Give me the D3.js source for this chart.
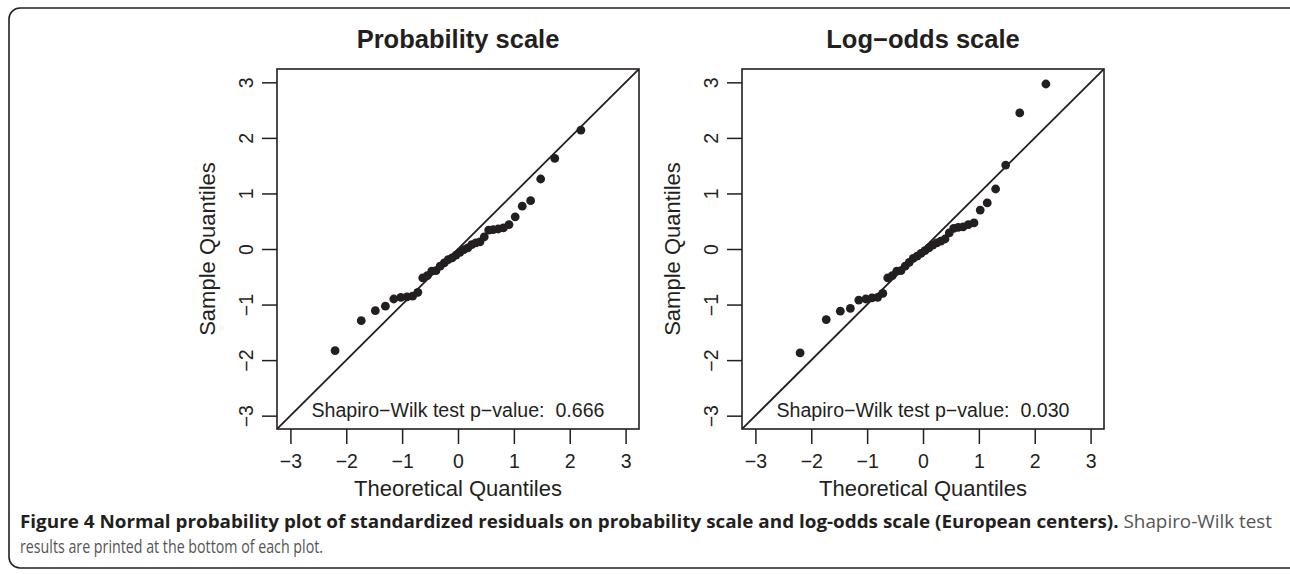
<!DOCTYPE html>
<html>
<head>
<meta charset="utf-8">
<script src="https://cdn.jsdelivr.net/npm/d3@7"></script>
<style>
  body { margin: 0; background: #fff; }
  svg { display: block; }
</style>
</head>
<body>
<script>
const width = 1290;
const height = 574;

// theoretical normal quantiles (36 residuals)
const theoretical = [-2.200, -1.732, -1.480, -1.300, -1.150, -1.024, -0.913, -0.812, -0.719,
  -0.631, -0.549, -0.470, -0.394, -0.319, -0.246, -0.175, -0.105, -0.035,
  0.035, 0.105, 0.175, 0.246, 0.319, 0.394, 0.470, 0.549, 0.631,
  0.719, 0.812, 0.913, 1.024, 1.150, 1.300, 1.480, 1.732, 2.200];

// sample quantiles, probability scale
const probSample = [-1.83, -1.29, -1.11, -1.03, -0.90, -0.87, -0.86, -0.85, -0.78,
  -0.52, -0.48, -0.40, -0.39, -0.31, -0.25, -0.19, -0.16, -0.11,
  -0.06, -0.01, 0.02, 0.08, 0.11, 0.13, 0.22, 0.34, 0.35,
  0.36, 0.38, 0.44, 0.58, 0.77, 0.87, 1.26, 1.63, 2.14];

// sample quantiles, log-odds scale
const logitSample = [-1.87, -1.27, -1.12, -1.07, -0.92, -0.90, -0.88, -0.87, -0.80,
  -0.52, -0.48, -0.40, -0.39, -0.31, -0.24, -0.17, -0.13, -0.08,
  -0.03, 0.02, 0.07, 0.11, 0.14, 0.18, 0.29, 0.37, 0.39,
  0.40, 0.44, 0.47, 0.70, 0.83, 1.08, 1.51, 2.45, 2.97];

const titles = ['Probability scale', 'Log\u2212odds scale'];
const pValues = ['0.666', '0.030'];
const ticks = [-3, -2, -1, 0, 1, 2, 3];

const ink = '#231f20';
const font = '"Liberation Sans", Arial, Helvetica, sans-serif';

const svg = d3.select('body').append('svg')
  .attr('width', width)
  .attr('height', height);

// outer figure frame
svg.append('rect')
  .attr('x', 9).attr('y', 8)
  .attr('width', width + 20).attr('height', 560)
  .attr('rx', 11)
  .attr('fill', 'none')
  .attr('stroke', ink)
  .attr('stroke-width', 1.6);

const panels = [
  { left: 277, sample: probSample },
  { left: 742, sample: logitSample }
];
const plotTop = 69, pw = 362, ph = 360;
const fmt = d3.format('d');

panels.forEach((p, i) => {
  const x = d3.scaleLinear().domain([-3.24, 3.24]).range([0, pw]);
  const y = d3.scaleLinear().domain([-3.24, 3.24]).range([ph, 0]);

  const g = svg.append('g').attr('transform', `translate(${p.left},${plotTop})`);

  // x axis
  const xa = g.append('g')
    .attr('transform', `translate(0,${ph})`)
    .call(d3.axisBottom(x).tickValues(ticks).tickFormat(fmt).tickSize(15).tickSizeOuter(0));
  xa.select('.domain').remove();
  xa.selectAll('line').attr('stroke', ink).attr('stroke-width', 1.5);
  xa.selectAll('text')
    .attr('y', 39).attr('dy', null)
    .attr('fill', ink)
    .attr('font-family', font).attr('font-size', 19.5);

  // y axis with rotated labels
  const ya = g.append('g')
    .call(d3.axisLeft(y).tickValues(ticks).tickFormat(fmt).tickSize(15).tickSizeOuter(0));
  ya.select('.domain').remove();
  ya.selectAll('line').attr('stroke', ink).attr('stroke-width', 1.5);
  ya.selectAll('text')
    .attr('x', 0).attr('dy', null)
    .attr('text-anchor', 'middle')
    .attr('transform', 'translate(-24,0) rotate(-90)')
    .attr('fill', ink)
    .attr('font-family', font).attr('font-size', 19.5);

  // clip for the reference line
  const clipId = 'clip' + i;
  g.append('clipPath').attr('id', clipId)
    .append('rect').attr('width', pw).attr('height', ph);

  g.append('line')
    .attr('clip-path', `url(#${clipId})`)
    .attr('x1', x(-3.24)).attr('y1', y(-3.24))
    .attr('x2', x(3.24)).attr('y2', y(3.24))
    .attr('stroke', ink).attr('stroke-width', 1.8);

  g.selectAll('circle')
    .data(theoretical.map((t, k) => [t, p.sample[k]]))
    .join('circle')
      .attr('cx', d => x(d[0]))
      .attr('cy', d => y(d[1]))
      .attr('r', 4.4)
      .attr('fill', ink);

  g.append('rect')
    .attr('width', pw).attr('height', ph)
    .attr('fill', 'none')
    .attr('stroke', ink).attr('stroke-width', 1.6);

  // Shapiro-Wilk annotation
  g.append('text')
    .attr('x', x(0)).attr('y', y(-3) + 1)
    .attr('text-anchor', 'middle')
    .attr('fill', ink)
    .attr('font-family', font).attr('font-size', 19.6)
    .style('white-space', 'pre')
    .text('Shapiro\u2212Wilk test p\u2212value:  ' + pValues[i]);

  // panel title
  g.append('text')
    .attr('x', x(0)).attr('y', -21)
    .attr('text-anchor', 'middle')
    .attr('fill', ink)
    .attr('font-family', font).attr('font-size', 25.5)
    .attr('font-weight', 'bold')
    .text(titles[i]);

  // axis titles
  g.append('text')
    .attr('x', x(0)).attr('y', ph + 67)
    .attr('text-anchor', 'middle')
    .attr('fill', ink)
    .attr('font-family', font).attr('font-size', 22)
    .text('Theoretical Quantiles');

  g.append('text')
    .attr('transform', `translate(-62,${y(0)}) rotate(-90)`)
    .attr('text-anchor', 'middle')
    .attr('fill', ink)
    .attr('font-family', font).attr('font-size', 22)
    .text('Sample Quantiles');
});

// caption
const capFont = '"Open Sans", "Noto Sans", sans-serif';
const cap1 = svg.append('text')
  .attr('x', 20).attr('y', 528)
  .attr('font-family', capFont).attr('font-size', 18)
  .attr('textLength', 1252).attr('lengthAdjust', 'spacingAndGlyphs');
cap1.append('tspan')
  .attr('font-weight', 'bold').attr('fill', ink)
  .text('Figure 4 Normal probability plot of standardized residuals on probability scale and log-odds scale (European centers). ');
cap1.append('tspan')
  .attr('fill', '#555')
  .text('Shapiro-Wilk test');

svg.append('text')
  .attr('x', 20).attr('y', 553)
  .attr('font-family', capFont).attr('font-size', 18)
  .attr('fill', '#555')
  .attr('textLength', 303).attr('lengthAdjust', 'spacingAndGlyphs')
  .text('results are printed at the bottom of each plot.');
</script>
</body>
</html>
